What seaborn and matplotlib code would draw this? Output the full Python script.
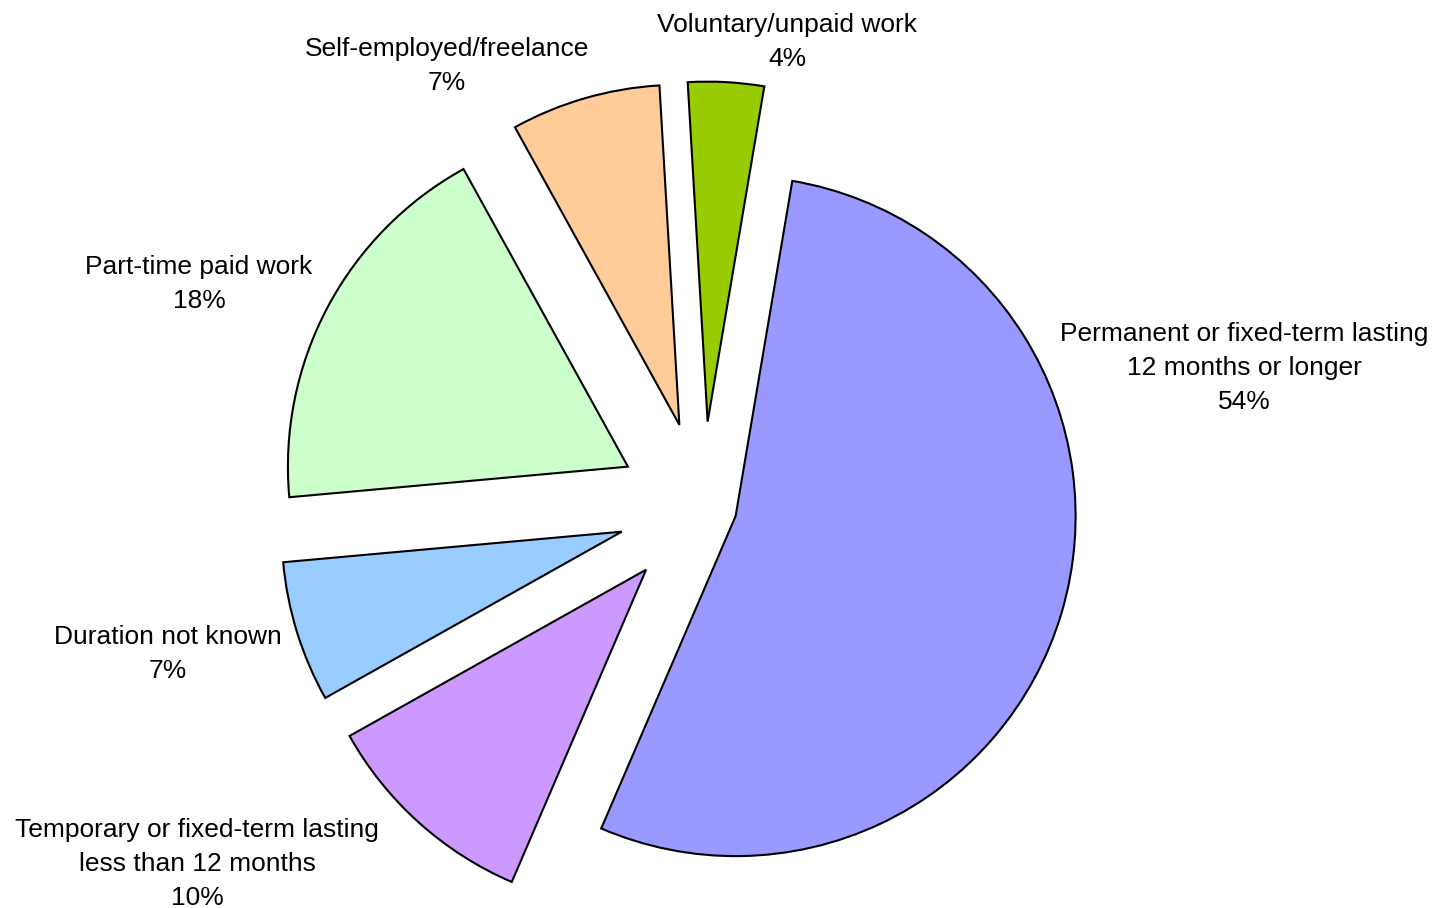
import matplotlib
matplotlib.use("Agg")
import matplotlib.pyplot as plt
import seaborn as sns

# ---- data ----
categories = [
    "Permanent or fixed-term lasting\n12 months or longer",
    "Temporary or fixed-term lasting\nless than 12 months",
    "Duration not known",
    "Part-time paid work",
    "Self-employed/freelance",
    "Voluntary/unpaid work",
]
shares = [53.8, 10.4, 6.7, 18.4, 7.1, 3.6]

# ---- styles ----
colors = ["#9999FF", "#CC99FF", "#99CCFF", "#CCFFCC", "#FFCC99", "#99CC00"]
explode_frac = [0.1, 0.25, 0.25, 0.25, 0.25, 0.25]
label_pos = [(1244, 322), (197, 818), (168, 625), (199, 255), (447, 37), (787, 13)]

sns.set_theme(style="white")
plt.rcParams["font.family"] = ["Liberation Sans", "DejaVu Sans"]

W, H = 1441, 908
fig = plt.figure(figsize=(W / 100, H / 100), dpi=100)
ax = fig.add_axes([0, 0, 1, 1])

radius = 340
center = (703, H - 506.5)
ax.pie(
    shares,
    colors=colors,
    explode=[e * radius for e in explode_frac],
    radius=radius,
    center=center,
    startangle=80.4,
    counterclock=False,
    wedgeprops=dict(edgecolor="black", linewidth=1.5),
)
ax.set_xlim(0, W)
ax.set_ylim(0, H)
ax.set_aspect("equal")
ax.axis("off")

for cat, val, (x, y) in zip(categories, shares, label_pos):
    ax.text(x, H - y, f"{cat}\n{val:.0f}%", ha="center", va="top",
            fontsize=19, color="black", linespacing=1.52)

fig.savefig("out.png", dpi=100)
